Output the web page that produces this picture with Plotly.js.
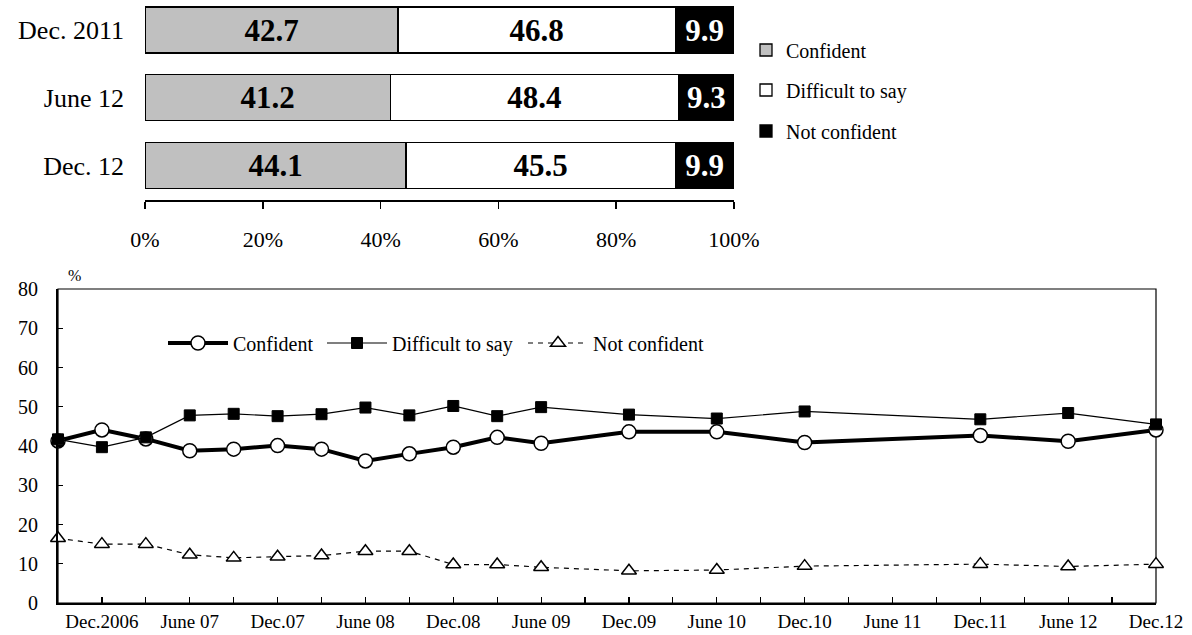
<!DOCTYPE html>
<html><head><meta charset="utf-8">
<script src="https://cdn.plot.ly/plotly-3.0.1.min.js"></script>
<style>html,body{margin:0;padding:0;background:#fff}#chart{width:1192px;height:635px}</style>
</head><body><div id="chart"></div>
<script>
// ---- Top chart: stacked bars ----
const barCategories = ['Dec. 2011', 'June 12', 'Dec. 12'];
const barConfident = [42.7, 41.2, 44.1];
const barDifficult = [46.8, 48.4, 45.5];
const barNotConfident = [9.9, 9.3, 9.9];
const barTicks = [0, 20, 40, 60, 80, 100];
const barTickLabels = ['0%', '20%', '40%', '60%', '80%', '100%'];

// ---- Bottom chart: time series ----
const surveyDates = ['2006-09','2006-12','2007-03','2007-06','2007-09','2007-12','2008-03','2008-06',
  '2008-09','2008-12','2009-03','2009-06','2009-12','2010-06','2010-12','2011-12','2012-06','2012-12'];
const confident = [41.3, 44.1, 41.8, 38.8, 39.2, 40.1, 39.2, 36.2, 38.0, 39.7, 42.2, 40.7, 43.6, 43.6, 40.9, 42.7, 41.2, 44.1];
const difficult = [41.7, 39.7, 42.2, 47.8, 48.2, 47.6, 48.1, 49.8, 47.8, 50.2, 47.6, 49.9, 48.0, 47.0, 48.8, 46.8, 48.4, 45.5];
const notConfident = [16.5, 15.0, 15.0, 12.3, 11.5, 11.8, 12.1, 13.2, 13.2, 9.8, 9.8, 9.1, 8.2, 8.4, 9.4, 9.9, 9.3, 9.9];
const quarterLabels = ['', 'Dec.2006', '', 'June 07', '', 'Dec.07', '', 'June 08', '', 'Dec.08', '', 'June 09', '',
  'Dec.09', '', 'June 10', '', 'Dec.10', '', 'June 11', '', 'Dec.11', '', 'June 12', '', 'Dec.12'];

const FONT = '"Liberation Serif", "Times New Roman", serif';
function quarterIndex(d) { const p = d.split('-').map(Number); return (p[0] - 2006) * 4 + (p[1] - 9) / 3; }
const xq = surveyDates.map(quarterIndex);

function barTrace(name, vals, color, txtColor, legend) {
  return {
    type: 'bar', orientation: 'h', name: name, y: barCategories, x: vals,
    xaxis: 'x', yaxis: 'y', width: 0.68,
    marker: {color: color, line: {color: '#000', width: 1.3}},
    text: vals.map(v => v.toFixed(1)), texttemplate: '%{text}',
    textposition: 'inside', insidetextanchor: 'middle', constraintext: 'none',
    textfont: {family: FONT, size: 31, color: txtColor, weight: 'bold'},
    legend: legend, hoverinfo: 'skip'
  };
}

const traces = [
  barTrace('Confident', barConfident, '#c0c0c0', '#000', 'legend4'),
  barTrace('Difficult to say', barDifficult, '#ffffff', '#000', 'legend5'),
  barTrace('Not confident', barNotConfident, '#000000', '#fff', 'legend6'),
  {type: 'scatter', mode: 'lines+markers', name: 'Confident', x: xq, y: confident,
   xaxis: 'x2', yaxis: 'y2', cliponaxis: false, legend: 'legend',
   line: {color: '#000', width: 4},
   marker: {symbol: 'circle', size: 14, color: '#fff', line: {color: '#000', width: 1.5}}},
  {type: 'scatter', mode: 'lines+markers', name: 'Difficult to say', x: xq, y: difficult,
   xaxis: 'x2', yaxis: 'y2', cliponaxis: false, legend: 'legend2',
   line: {color: '#000', width: 1.2},
   marker: {symbol: 'square', size: 11, color: '#000', line: {color: '#000', width: 1}}},
  {type: 'scatter', mode: 'lines+markers', name: 'Not confident', x: xq, y: notConfident,
   xaxis: 'x2', yaxis: 'y2', cliponaxis: false, legend: 'legend3',
   line: {color: '#000', width: 1.2, dash: '5px,5px'},
   marker: {symbol: 'triangle-up', size: 13, color: '#fff', line: {color: '#000', width: 1.5}}}
];

function lg(x, yc, size, iw) {
  return {x: x, y: yc, xanchor: 'left', yanchor: 'middle', orientation: 'v', itemwidth: iw,
          bgcolor: 'rgba(0,0,0,0)', borderwidth: 0, font: {family: FONT, size: size, color: '#000'}};
}

const layout = {
  width: 1192, height: 635, margin: {l: 0, r: 0, t: 0, b: 0},
  paper_bgcolor: '#fff', plot_bgcolor: '#fff',
  font: {family: FONT, color: '#000'},
  barmode: 'stack', barnorm: 'percent', showlegend: true,
  xaxis: {domain: [145/1192, 734/1192], range: [0, 100], tickvals: barTicks, ticktext: barTickLabels,
          showline: true, linecolor: '#000', linewidth: 1.5, ticks: 'outside', ticklen: 7, tickwidth: 1.5,
          tickcolor: '#000', showgrid: false, zeroline: false, anchor: 'y', fixedrange: true,
          ticklabelstandoff: 12, tickfont: {family: FONT, size: 22}},
  yaxis: {domain: [1 - 200/635, 1], type: 'category', range: [2.509, -0.443], anchor: 'x',
          showline: false, ticks: '', showgrid: false, zeroline: false, ticklabelstandoff: 20,
          tickfont: {family: FONT, size: 26}},
  xaxis2: {domain: [58/1192, 1156/1192], range: [0, 25], tickvals: quarterLabels.map((_, i) => i),
           ticktext: quarterLabels, ticks: 'inside', ticklen: 6, tickwidth: 1.2, tickcolor: '#000',
           showline: true, linecolor: '#000', linewidth: 2, showgrid: false, zeroline: false,
           anchor: 'y2', ticklabelstandoff: 0, tickfont: {family: FONT, size: 19}},
  yaxis2: {domain: [1 - 603/635, 1 - 289/635], range: [0, 80], dtick: 10, ticks: 'inside', ticklen: 5,
           tickwidth: 1.2, tickcolor: '#000', showline: true, linecolor: '#000', linewidth: 2,
           showgrid: false, zeroline: false, anchor: 'x2', ticklabelstandoff: 14,
           tickfont: {family: FONT, size: 20}},
  shapes: [{type: 'rect', xref: 'x2 domain', yref: 'y2 domain', x0: 0, x1: 1, y0: 0, y1: 1,
            line: {color: '#000', width: 1.2}, layer: 'below'}],
  annotations: [{text: '%', xref: 'paper', yref: 'paper', x: 66/1192, y: 1 - 275/635, xanchor: 'left',
                 showarrow: false, font: {family: FONT, size: 16}}],
  legend: lg(163/1192, 1 - 343/635, 20, 60),
  legend2: lg(322/1192, 1 - 343/635, 20, 60),
  legend3: lg(523/1192, 1 - 343/635, 20, 60),
  legend4: lg(746/1192, 1 - 50/635, 20, 30),
  legend5: lg(746/1192, 1 - 90/635, 20, 30),
  legend6: lg(746/1192, 1 - 131/635, 20, 30)
};

Plotly.newPlot('chart', traces, layout, {staticPlot: true, displayModeBar: false});
</script>
</body></html>
